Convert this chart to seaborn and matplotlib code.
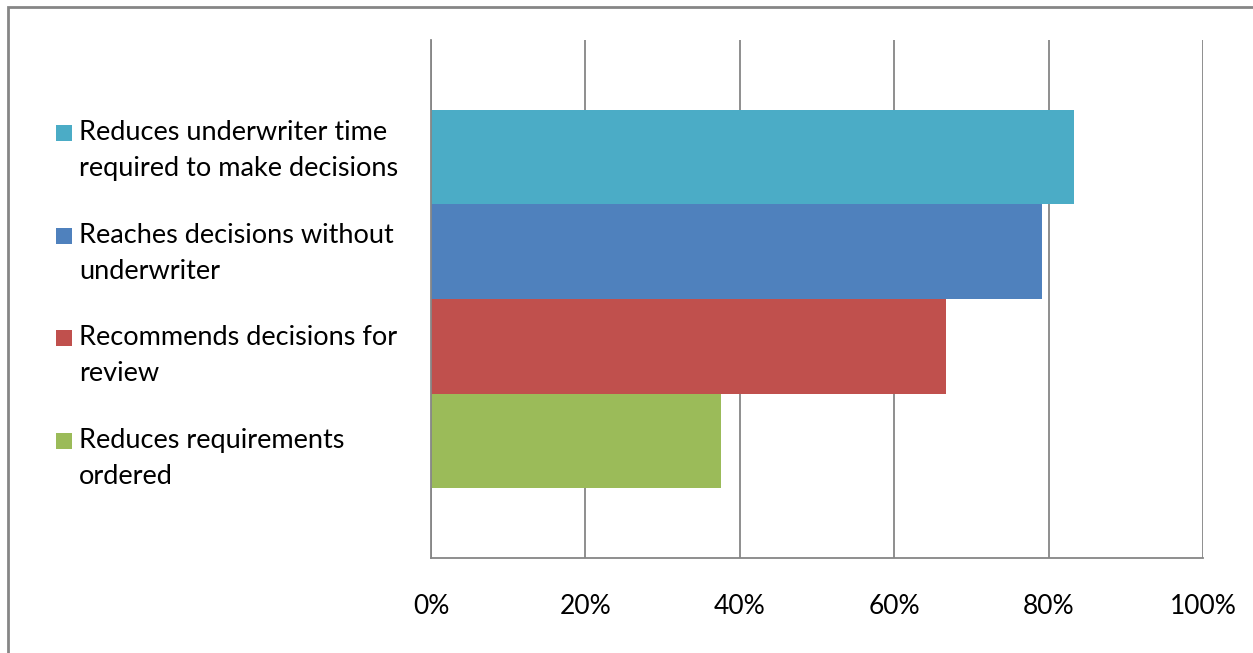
import matplotlib
matplotlib.use("Agg")
import matplotlib.pyplot as plt
import matplotlib.patches as mpatches
import seaborn as sns
import pandas as pd

series = [
    "Reduces underwriter time\nrequired to make decisions",
    "Reaches decisions without\nunderwriter",
    "Recommends decisions for\nreview",
    "Reduces requirements\nordered",
]
values = [83.3, 79.2, 66.7, 37.5]
colors = ["#4BACC6", "#4F81BD", "#C0504D", "#9BBB59"]
xticks = [0, 20, 40, 60, 80, 100]
xticklabels = ["0%", "20%", "40%", "60%", "80%", "100%"]

df = pd.DataFrame({"cat": [""] * len(series), "series": series, "value": values})

sns.set_theme(style="white")
plt.rcParams["font.family"] = ["Lato", "DejaVu Sans"]

W, H = 1253, 653
fig = plt.figure(figsize=(W / 100, H / 100), dpi=100)
ax = fig.add_axes([431 / W, 1 - 558 / H, (1203 - 431) / W, (558 - 40) / H])

sns.barplot(data=df, y="cat", x="value", hue="series", hue_order=series,
            palette=colors, orient="h", width=0.73, dodge=True, ax=ax,
            saturation=1, legend=False, linewidth=0, errorbar=None)

ax.set_xlim(0, 100)
ax.set_ylim(0.5, -0.5)
ax.set_xticks(xticks)
ax.set_xticklabels(xticklabels, fontsize=19, color="black")
ax.set_yticks([])
ax.set_xlabel("")
ax.set_ylabel("")
ax.tick_params(axis="x", length=0, pad=26)
ax.grid(axis="x", color="#868686", linewidth=1.3)
ax.set_axisbelow(True)
for s in ["top", "right"]:
    ax.spines[s].set_visible(False)
for s in ["left", "bottom"]:
    ax.spines[s].set_color("#868686")
    ax.spines[s].set_linewidth(1.3)

# legend (marker aligned with first text line, as in the original)
first_line_y = [133, 236, 338, 441]
for lab, col, yc in zip(series, colors, first_line_y):
    fig.patches.append(mpatches.Rectangle((56 / W, 1 - (yc + 8) / H), 16 / W, 16 / H,
                                          transform=fig.transFigure,
                                          facecolor=col, edgecolor="none"))
    fig.text(79 / W, 1 - (yc - 13) / H, lab, fontsize=19.5, color="black",
             ha="left", va="top", linespacing=1.55)

# outer chart border
border = mpatches.Rectangle((8 / W, -0.1), 1.2, 1 - 7 / H + 0.1,
                            transform=fig.transFigure, fill=False,
                            edgecolor="#868686", linewidth=2, clip_on=False)
fig.patches.append(border)

fig.savefig("out.png", dpi=100, facecolor="white")
